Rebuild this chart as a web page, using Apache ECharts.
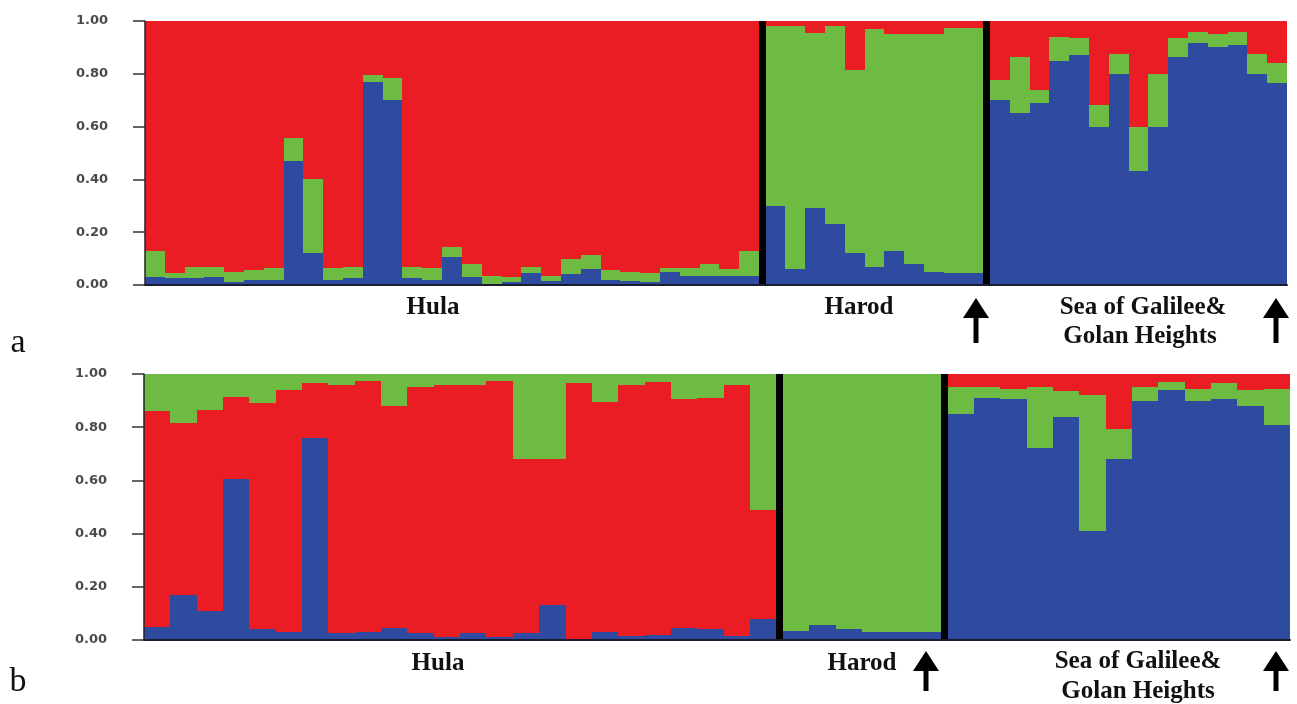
<!DOCTYPE html>
<html>
<head>
<meta charset="utf-8">
<title>STRUCTURE plot</title>
<script src="https://cdn.jsdelivr.net/npm/echarts@6/dist/echarts.min.js"></script>
<style>
  html, body { margin: 0; padding: 0; background: #fff; }
  #chart { width: 1297px; height: 704px; }
</style>
</head>
<body>
<div id="chart"></div>
<script>
// cluster colours: blue, green, red, separator
const clusterColors = ['#2f4b9f', '#6dbb43', '#ea1d25', '#000000'];
const yTicks = [0, 0.2, 0.4, 0.6, 0.8, 1.0];

// panel a - membership per individual
const hulaA_blue = [0.03,0.025,0.025,0.03,0.01,0.02,0.02,0.47,0.12,0.02,0.025,0.77,0.70,0.025,0.02,0.105,0.03,0.005,0.01,0.045,0.015,0.04,0.06,0.02,0.015,0.01,0.05,0.035,0.035,0.035,0.035];
const hulaA_green = [0.10,0.02,0.045,0.04,0.04,0.035,0.045,0.085,0.28,0.045,0.045,0.025,0.085,0.045,0.045,0.04,0.05,0.03,0.02,0.025,0.02,0.06,0.055,0.035,0.035,0.035,0.015,0.03,0.045,0.025,0.095];
const hulaA_red = [0.87,0.955,0.93,0.93,0.95,0.945,0.935,0.445,0.60,0.935,0.93,0.205,0.215,0.93,0.935,0.855,0.92,0.965,0.97,0.93,0.965,0.90,0.885,0.945,0.95,0.955,0.935,0.935,0.92,0.94,0.87];

const harodA_blue = [0.30,0.06,0.29,0.23,0.12,0.07,0.13,0.08,0.05,0.045,0.045];
const harodA_green = [0.68,0.92,0.665,0.75,0.695,0.90,0.82,0.87,0.90,0.93,0.93];
const harodA_red = [0.02,0.02,0.045,0.02,0.185,0.03,0.05,0.05,0.05,0.025,0.025];

const galileeA_blue = [0.70,0.65,0.69,0.85,0.87,0.60,0.80,0.43,0.60,0.865,0.915,0.90,0.91,0.80,0.765];
const galileeA_green = [0.075,0.215,0.05,0.09,0.065,0.08,0.075,0.17,0.20,0.07,0.045,0.05,0.05,0.075,0.075];
const galileeA_red = [0.225,0.135,0.26,0.06,0.065,0.32,0.125,0.40,0.20,0.065,0.04,0.05,0.04,0.125,0.16];

// panel b
const hulaB_blue = [0.05,0.17,0.11,0.605,0.04,0.03,0.76,0.025,0.03,0.045,0.025,0.01,0.025,0.01,0.025,0.13,0.005,0.03,0.015,0.02,0.045,0.04,0.015,0.08];
const hulaB_red = [0.81,0.645,0.755,0.31,0.85,0.91,0.205,0.935,0.945,0.835,0.925,0.95,0.935,0.965,0.655,0.55,0.96,0.865,0.945,0.95,0.86,0.87,0.945,0.41];
const hulaB_green = [0.14,0.185,0.135,0.085,0.11,0.06,0.035,0.04,0.025,0.12,0.05,0.04,0.04,0.025,0.32,0.32,0.035,0.105,0.04,0.03,0.095,0.09,0.04,0.51];

const harodB_blue = [0.035,0.055,0.04,0.03,0.03,0.03];
const harodB_green = [0.965,0.945,0.96,0.97,0.97,0.97];

const galileeB_blue = [0.85,0.91,0.905,0.72,0.84,0.41,0.68,0.90,0.94,0.90,0.905,0.88,0.81];
const galileeB_green = [0.10,0.04,0.04,0.23,0.095,0.51,0.115,0.05,0.03,0.045,0.06,0.06,0.135];
const galileeB_red = [0.05,0.05,0.055,0.05,0.065,0.08,0.205,0.05,0.03,0.055,0.035,0.06,0.055];

// each segment: list of [values, colorIndex] in stacking order (bottom first)
const panelA = [
  [[hulaA_blue, 0], [hulaA_green, 1], [hulaA_red, 2]],
  [[harodA_blue, 0], [harodA_green, 1], [harodA_red, 2]],
  [[galileeA_blue, 0], [galileeA_green, 1], [galileeA_red, 2]]
];
const panelB = [
  [[hulaB_blue, 0], [hulaB_red, 2], [hulaB_green, 1]],
  [[harodB_blue, 0], [harodB_green, 1]],
  [[galileeB_blue, 0], [galileeB_green, 1], [galileeB_red, 2]]
];

// turn segments into rect items [x0, x1, y0, y1, color]
function buildPanel(segments, gap) {
  const items = [];
  let x = 0;
  segments.forEach((seg, si) => {
    if (si > 0) {
      items.push([x, x + gap, 0, 1, 3]);
      x += gap;
    }
    const n = seg[0][0].length;
    for (let i = 0; i < n; i++) {
      let y = 0;
      seg.forEach(([vals, c]) => {
        items.push([x + i, x + i + 1, y, y + vals[i], c]);
        y += vals[i];
      });
    }
    x += n;
  });
  return { items, total: x };
}

const a = buildPanel(panelA, 0.33);
const b = buildPanel(panelB, 0.25);

const renderRect = (params, api) => {
  const p0 = api.coord([api.value(0), Math.min(api.value(3), 1)]);
  const p1 = api.coord([api.value(1), api.value(2)]);
  const x0 = Math.round(p0[0]), x1 = Math.round(p1[0]);
  const y0 = Math.round(p0[1]), y1 = Math.round(p1[1]);
  return {
    type: 'rect',
    shape: { x: x0, y: y0, width: x1 - x0, height: y1 - y0 },
    style: { fill: clusterColors[api.value(4)] }
  };
};

const yAxisBase = (gridIndex) => ({
  type: 'value',
  gridIndex,
  min: yTicks[0],
  max: yTicks[yTicks.length - 1],
  interval: 0.2,
  axisLine: { show: true, lineStyle: { color: '#222', width: 1.5 } },
  axisTick: { show: true, length: 12, lineStyle: { color: '#333', width: 1.5 } },
  axisLabel: {
    margin: 37,
    formatter: v => v.toFixed(2),
    fontFamily: 'DejaVu Sans',
    fontSize: 13,
    fontWeight: 'bold',
    color: '#4a4a4a'
  },
  splitLine: { show: false },
  z: 10
});

const xAxisBase = (gridIndex, total) => ({
  type: 'value',
  gridIndex,
  min: 0,
  max: total,
  axisLine: { show: true, onZero: false, lineStyle: { color: '#1c1c30', width: 2 } },
  axisTick: { show: false },
  axisLabel: { show: false },
  splitLine: { show: false },
  z: 10
});

const labelFont = 'bold 25px "Liberation Serif"';
const txt = (text, x, y, font) => ({
  type: 'text', x, y,
  style: { text, font: font || labelFont, fill: '#111', textAlign: 'center', textVerticalAlign: 'middle' }
});
// arrow pointing up: head top at y, total length len
const arrow = (cx, y, len) => ({
  type: 'group',
  children: [
    { type: 'polygon', shape: { points: [[cx, y], [cx - 13, y + 20], [cx + 13, y + 20]] }, style: { fill: '#000' } },
    { type: 'rect', shape: { x: cx - 2.5, y: y + 16, width: 5, height: len - 16 }, style: { fill: '#000' } }
  ]
});

const chart = echarts.init(document.getElementById('chart'));
chart.setOption({
  animation: false,
  backgroundColor: '#fff',
  grid: [
    { left: 145, top: 21, width: 1142, height: 264 },
    { left: 144, top: 374, width: 1146, height: 266 }
  ],
  xAxis: [xAxisBase(0, a.total), xAxisBase(1, b.total)],
  yAxis: [yAxisBase(0), yAxisBase(1)],
  series: [
    {
      type: 'custom', xAxisIndex: 0, yAxisIndex: 0,
      renderItem: renderRect, data: a.items,
      encode: { x: [0, 1], y: [2, 3] }, silent: true
    },
    {
      type: 'custom', xAxisIndex: 1, yAxisIndex: 1,
      renderItem: renderRect, data: b.items,
      encode: { x: [0, 1], y: [2, 3] }, silent: true
    }
  ],
  graphic: [
    txt('Hula', 433, 308),
    txt('Harod', 859, 308),
    arrow(976, 298, 45),
    txt('Sea of Galilee&', 1143, 308),
    txt('Golan Heights', 1140, 337),
    arrow(1276, 298, 45),
    txt('a', 18, 343, '34px "Liberation Serif"'),

    txt('Hula', 438, 664),
    txt('Harod', 862, 664),
    arrow(926, 651, 40),
    txt('Sea of Galilee&', 1138, 662),
    txt('Golan Heights', 1138, 692),
    arrow(1276, 651, 40),
    txt('b', 18, 682, '34px "Liberation Serif"')
  ]
});
</script>
</body>
</html>
